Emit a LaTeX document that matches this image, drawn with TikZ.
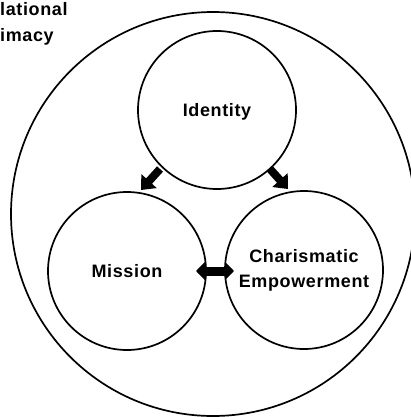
\documentclass[tikz,border=0pt]{standalone}
\usepackage{fontspec}
\setmainfont{Liberation Sans}[LetterSpace=3.5]
\usetikzlibrary{arrows.meta}
\begin{document}
\begin{tikzpicture}[x=1pt,y=-1pt,
  ring/.style={circle, draw=black, line width=1.7pt, inner sep=0pt, minimum size=158pt,
    font=\fontsize{18}{25}\selectfont\bfseries, align=center},
  blockarrow/.style={line width=8pt, -{Triangle[width=20pt,length=12pt]}},
  twoway/.style={line width=9pt, {Triangle[width=18pt,length=9pt]}-{Triangle[width=18pt,length=9pt]}},
  caption/.style={font=\fontsize{18}{24}\selectfont\bfseries, anchor=base west, inner sep=0pt}]
  \useasboundingbox (0,0) rectangle (411,417);
  \clip (0,0) rectangle (411,417);
  % outer boundary
  \node[circle, draw=black, line width=1.7pt, minimum size=404pt, inner sep=0pt] (outer) at (213,214) {};
  % three inner circles
  \node[ring, text depth=0pt] (identity) at (217,110) {Identity};
  \node[ring] (mission) at (127,271) {Mission};
  \node[ring] (charisma) at (304,270) {Charismatic\\Empowerment};
  % title fragments at top left
  \node[caption] (t1) at (0,16) {lational};
  \node[caption] (t2) at (0,42) {imacy};
  % arrow end points in the gaps between circles
  \coordinate (aLs) at (160,169);
  \coordinate (aLe) at (141,190);
  \coordinate (aRs) at (270,169);
  \coordinate (aRe) at (288,189);
  \coordinate (dL) at (196,271);
  \coordinate (dR) at (234,271);
  \draw[blockarrow] (aLs) -- (aLe);
  \draw[blockarrow] (aRs) -- (aRe);
  \draw[twoway] (dL) -- (dR);
\end{tikzpicture}
\end{document}
